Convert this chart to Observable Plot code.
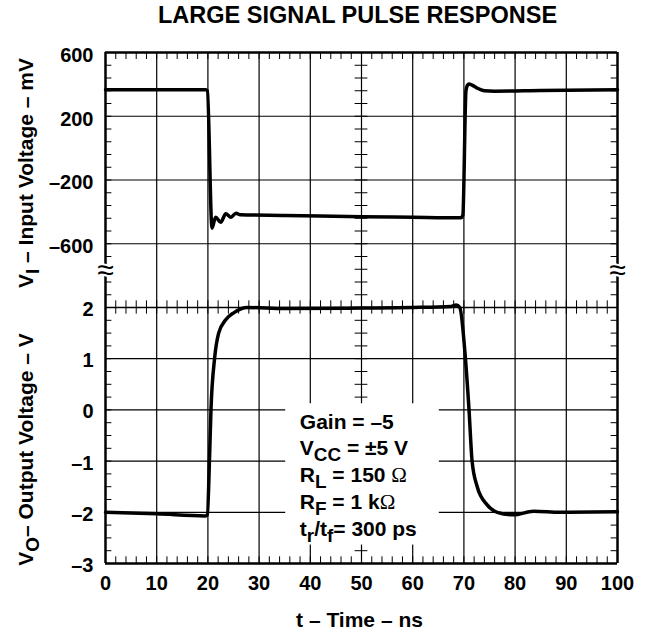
<!DOCTYPE html>
<html><head><meta charset="utf-8">
<script src="https://cdn.jsdelivr.net/npm/d3@7"></script>
<script src="https://cdn.jsdelivr.net/npm/@observablehq/plot@0.6"></script>
<style>
body{margin:0;background:#fff;}
#chart{position:relative;width:645px;height:633px;font-family:"Liberation Sans",Arial,Helvetica,sans-serif;color:#000;}
#title{position:absolute;top:4px;left:357.5px;transform:translateX(-50%);white-space:nowrap;font-weight:bold;font-size:23.5px;line-height:1;}
#upper,#lower{position:absolute;left:0;}
#upper{top:0;}
#lower{top:297px;}
</style></head><body>
<div id="chart"><div id="title">LARGE SIGNAL PULSE RESPONSE</div><div id="upper"></div><div id="lower"></div></div>
<script>
// ---- data ----
const timeTicks = [0, 10, 20, 30, 40, 50, 60, 70, 80, 90, 100];
const inputTicks = [600, 200, -200, -600];
const outputTicks = [2, 1, 0, -1, -2, -3];

const inputTime = [0, 19.6, 19.9, 20.8, 21.5, 22.5, 23.5, 24.5, 25.5, 26.3, 35, 50, 60, 69.4, 69.8, 70.4, 70.7, 71.0, 71.6, 72.5, 74, 76, 85, 100];
const inputMv   = [366, 366, 360, -502, -433, -465, -412, -433, -408, -418, -422, -430, -434, -437, -420, 360, 395, 403, 395, 378, 360, 357, 361, 366];

const outputTime = [0, 10, 19.5, 19.9, 20.3, 20.6, 21.3, 22.1, 23.4, 25.1, 27.7, 35, 50, 60, 67.5, 68.5, 69.2, 70.3, 71.0, 71.6, 72.6, 74.5, 76.5, 79.7, 83.6, 88.8, 100];
const outputV    = [-2.0, -2.03, -2.07, -2.05, -1.0, 0, 1.0, 1.5, 1.75, 1.9, 2.0, 1.98, 1.99, 2.0, 2.02, 2.05, 2.0, 1.0, 0, -1.0, -1.5, -1.85, -2.0, -2.05, -1.98, -2.0, -1.99];

const inputLabel = "V_{I} – Input Voltage – mV";
const outputLabel = "V_{O}– Output Voltage – V";
const timeLabel = "t – Time – ns";
const notes = ["Gain = –5", "V_{CC} = ±5 V", "R_{L} = 150 Ω", "R_{F} = 1 kΩ", "t_{r}/t_{f}= 300 ps"];
const breakEdges = [0, 100];

// ---- helpers ----
const inputData = inputTime.map((t, i) => ({t, v: inputMv[i]}));
const outputData = outputTime.map((t, i) => ({t, v: outputV[i]}));
const fmt = d => d < 0 ? "–" + Math.abs(d) : String(d);
const tMinor = d3.range(0, 100.001, 2);
const inMinor = d3.range(-1000, 600.001, 80);
const outMinor = d3.range(-3, 2.001, 0.25);
const grid = timeTicks.filter(t => t > 0 && t < 100);
const FONT = "'Liberation Sans', Arial, Helvetica, sans-serif";
const style = {fontFamily: FONT, fontWeight: "bold", fontSize: "20px", background: "transparent", overflow: "visible"};
const TL = 1.25;          // minor tick length in ns (x direction)
const SVGNS = "http://www.w3.org/2000/svg";

function subify(svg) {
  const SH = 6;
  svg.querySelectorAll("text, tspan").forEach(el => {
    if (el.children.length) return;
    const s = el.textContent;
    if (!/_\{|Ω/.test(s)) return;
    el.textContent = "";
    const re = /_\{([^}]*)\}|Ω/g;
    let last = 0, m, shifted = false;
    const add = (txt, dy, opts = {}) => {
      const ts = document.createElementNS(SVGNS, "tspan");
      if (dy) ts.setAttribute("dy", dy);
      if (opts.small) ts.setAttribute("font-size", "0.9em");
      if (opts.serif) { ts.setAttribute("font-family", "'Liberation Serif', 'DejaVu Serif', serif"); ts.setAttribute("font-weight", "normal"); }
      ts.textContent = txt;
      el.appendChild(ts);
    };
    while ((m = re.exec(s))) {
      if (m.index > last) { add(s.slice(last, m.index), shifted ? -SH : 0); shifted = false; }
      if (m[0] === "Ω") { add("Ω", shifted ? -SH : 0, {serif: true}); shifted = false; }
      else { add(m[1], SH, {small: true}); shifted = true; }
      last = re.lastIndex;
    }
    if (last < s.length || shifted) add(s.slice(last), shifted ? -SH : 0);
  });
}

const lineOpts = {x: "t", y: "v", stroke: "black", strokeWidth: 3.5, strokeLinejoin: "round", strokeLinecap: "round", curve: "monotone-x"};

// ---- upper panel: input voltage ----
const upper = Plot.plot({
  width: 645, height: 307,
  marginTop: 52, marginBottom: 0, marginLeft: 105, marginRight: 28,
  style,
  x: {domain: [0, 100], axis: null},
  y: {domain: [-1000, 600], label: null},
  marks: [
    Plot.ruleX(grid, {stroke: "black", strokeWidth: 1.2}),
    Plot.ruleY(inputTicks.filter(v => v < 600), {stroke: "black", strokeWidth: 1.2}),
    Plot.ruleY(inMinor, {x1: 0, x2: TL, stroke: "black", strokeWidth: 1}),
    Plot.ruleY(inMinor, {x1: 100 - TL, x2: 100, stroke: "black", strokeWidth: 1}),
    Plot.ruleY(inMinor, {x1: 50 - TL, x2: 50 + TL, stroke: "black", strokeWidth: 1}),
    Plot.ruleX(tMinor, {y1: 600, y2: 556, stroke: "black", strokeWidth: 1}),
    Plot.ruleY([600], {stroke: "black", strokeWidth: 2.5}),
    Plot.ruleX([0, 100], {stroke: "black", strokeWidth: 2.5}),
    Plot.text(breakEdges, {x: d => d, y: -770, text: () => "≈", fontSize: 30, fontWeight: "normal",
      fill: "black", stroke: "white", strokeWidth: 4, paintOrder: "stroke"}),
    Plot.axisY(inputTicks, {anchor: "left", tickSize: 0, tickPadding: 12, tickFormat: fmt, fontSize: 20, dy: 3, label: null}),
    Plot.text([inputLabel], {frameAnchor: "left", text: d => d, rotate: -90, dx: -73, dy: -7,
      textAnchor: "middle", lineAnchor: "bottom", fontSize: 21}),
    Plot.line(inputData, lineOpts)
  ]
});

// ---- lower panel: output voltage ----
const lower = Plot.plot({
  width: 645, height: 336,
  marginTop: 10, marginBottom: 70, marginLeft: 105, marginRight: 28,
  style,
  x: {domain: [0, 100], label: null},
  y: {domain: [-3, 2], label: null},
  marks: [
    Plot.ruleX(grid, {stroke: "black", strokeWidth: 1.2}),
    Plot.ruleY(outputTicks.filter(v => v < 2 && v > -3), {stroke: "black", strokeWidth: 1.2}),
    Plot.ruleY([2], {stroke: "black", strokeWidth: 1.4}),
    Plot.ruleY(outMinor, {x1: 0, x2: TL, stroke: "black", strokeWidth: 1}),
    Plot.ruleY(outMinor, {x1: 100 - TL, x2: 100, stroke: "black", strokeWidth: 1}),
    Plot.ruleY(outMinor, {x1: 50 - TL, x2: 50 + TL, stroke: "black", strokeWidth: 1}),
    Plot.ruleX(tMinor, {y1: -3, y2: -2.87, stroke: "black", strokeWidth: 1}),
    Plot.ruleX(tMinor, {y1: 1.87, y2: 2.13, stroke: "black", strokeWidth: 1}),
    Plot.ruleY([-3], {stroke: "black", strokeWidth: 2.5}),
    Plot.ruleX([0, 100], {stroke: "black", strokeWidth: 2.5}),
    Plot.rect([notes], {x1: 35.2, x2: 65.2, y1: -2.64, y2: 0.12, fill: "white"}),
    Plot.text([notes.join("\n")], {x: 37.95, y: 0, text: d => d, textAnchor: "start", lineAnchor: "top",
      lineHeight: 1.27, fontSize: 21}),
    Plot.axisY(outputTicks, {anchor: "left", tickSize: 0, tickPadding: 12, tickFormat: fmt, fontSize: 20, dy: 2, label: null}),
    Plot.axisX(timeTicks, {anchor: "bottom", tickSize: 0, tickPadding: 12, tickFormat: fmt, fontSize: 20, label: null}),
    Plot.text([outputLabel], {frameAnchor: "left", text: d => d, rotate: -90, dx: -73, dy: 14,
      textAnchor: "middle", lineAnchor: "bottom", fontSize: 21}),
    Plot.text([timeLabel], {frameAnchor: "bottom", text: d => d, dx: -2, dy: 63, textAnchor: "middle", lineAnchor: "bottom", fontSize: 21}),
    Plot.line(outputData, lineOpts)
  ]
});

subify(upper);
subify(lower);
document.getElementById("upper").appendChild(upper);
document.getElementById("lower").appendChild(lower);
</script>
</body></html>
